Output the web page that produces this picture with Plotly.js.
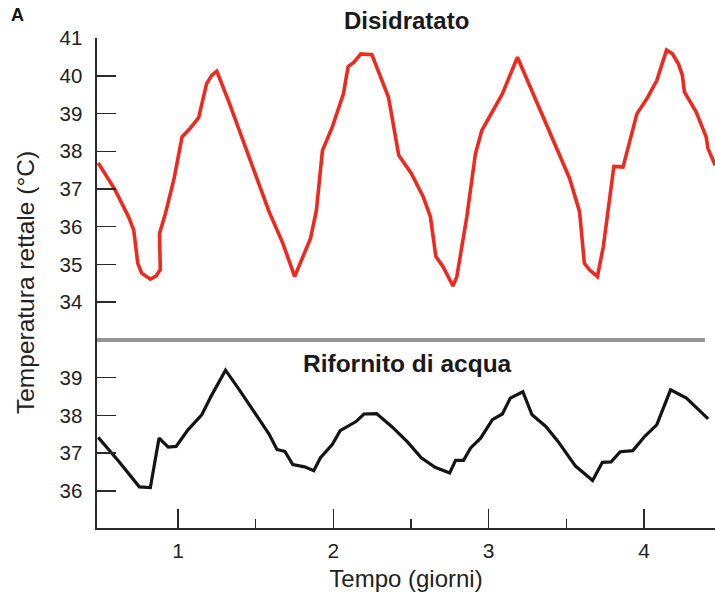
<!DOCTYPE html>
<html>
<head>
<meta charset="utf-8">
<script src="https://cdn.plot.ly/plotly-3.0.1.min.js"></script>
<style>html,body{margin:0;padding:0;background:#fff;}#chart{width:715px;height:599px;}</style>
</head>
<body>
<div id="chart"></div>
<script>
// Time in days
const daysDehydrated = [0.486,0.593,0.682,0.715,0.741,0.766,0.822,0.860,0.886,0.881,
  0.919,0.975,1.026,1.077,1.133,1.184,1.217,1.250,1.331,1.395,
  1.484,1.586,1.675,1.751,1.853,1.891,1.930,1.993,2.065,2.095,
  2.133,2.177,2.248,2.299,2.355,2.421,2.502,2.579,2.625,2.660,
  2.706,2.770,2.795,2.859,2.915,2.956,3.012,3.088,3.185,3.267,
  3.369,3.458,3.521,3.585,3.616,3.649,3.700,3.738,3.806,3.865,
  3.954,4.018,4.082,4.145,4.183,4.222,4.247,4.260,4.336,4.400,
  4.412,4.458];
const tempDehydrated = [37.69,36.99,36.26,35.91,35.03,34.77,34.61,34.70,34.87,35.82,
  36.35,37.28,38.38,38.60,38.89,39.79,40.01,40.12,39.27,38.55,
  37.50,36.40,35.56,34.68,35.69,36.44,38.02,38.64,39.52,40.24,
  40.36,40.58,40.56,40.05,39.43,37.89,37.41,36.79,36.26,35.21,
  34.94,34.43,34.68,36.26,37.94,38.55,38.95,39.52,40.49,39.70,
  38.77,37.89,37.28,36.40,35.03,34.86,34.68,35.47,37.60,37.58,
  38.99,39.39,39.87,40.68,40.58,40.31,40.01,39.57,39.04,38.38,
  38.07,37.63];
const daysWatered = [0.486,0.618,0.751,0.822,0.848,0.878,0.937,0.988,1.064,1.153,
  1.217,1.306,1.395,1.484,1.586,1.637,1.688,1.739,1.815,1.874,
  1.917,1.993,2.044,2.146,2.197,2.278,2.375,2.477,2.566,2.655,
  2.749,2.787,2.838,2.884,2.948,3.024,3.088,3.139,3.220,3.279,
  3.368,3.445,3.559,3.669,3.732,3.788,3.847,3.928,4.005,4.082,
  4.171,4.273,4.413];
const tempWatered = [37.42,36.79,36.11,36.09,36.70,37.40,37.16,37.18,37.62,38.02,
  38.54,39.20,38.68,38.15,37.51,37.10,37.05,36.70,36.64,36.54,
  36.88,37.23,37.60,37.84,38.04,38.05,37.71,37.30,36.88,36.63,
  36.48,36.81,36.81,37.14,37.40,37.89,38.04,38.46,38.63,38.02,
  37.71,37.32,36.66,36.28,36.76,36.77,37.04,37.07,37.45,37.75,
  38.68,38.46,37.91];
const xTicks = [1,2,3,4];
const xTickText = ["1","2","3","4"];
const xMinorTicks = [1.5,2.5,3.5];
const yTicksTop = [34,35,36,37,38,39,40,41];
const yTicksBottom = [36,37,38,39];

const FONT = '"Liberation Sans", Arial, Helvetica, sans-serif';
const AX = '#2a2a2a';

const traces = [
  {x: daysDehydrated, y: tempDehydrated, xaxis:'x', yaxis:'y', mode:'lines',
   line:{color:'#f0281e', width:3.6}, hoverinfo:'skip'},
  {x: daysWatered, y: tempWatered, xaxis:'x', yaxis:'y2', mode:'lines',
   line:{color:'#141414', width:3.2}, hoverinfo:'skip'}
];

const layout = {
  width:715, height:599,
  margin:{l:97, r:0, t:38, b:71, pad:0},
  paper_bgcolor:'#fff', plot_bgcolor:'#fff',
  showlegend:false,
  font:{family:FONT, color:'#222', size:20},
  xaxis:{
    anchor:'y2', range:[0.4785, 4.457], showgrid:false, zeroline:false,
    showline:true, linecolor:AX, linewidth:1.6,
    tickmode:'array', tickvals:xTicks, ticktext:xTickText,
    ticks:'inside', ticklen:19, tickwidth:1.5, tickcolor:AX,
    ticklabelstandoff:3,
    tickfont:{family:FONT, size:21, color:'#222'},
    minor:{tickmode:'array', tickvals:xMinorTicks, ticks:'inside', ticklen:9, tickwidth:1.5, tickcolor:AX, showgrid:false},
    title:{text:'Tempo (giorni)', font:{family:FONT, size:24, color:'#222'}, standoff:9}
  },
  yaxis:{
    domain:[0.3837, 1], range:[33, 41], anchor:'x',
    showgrid:false, zeroline:false, showline:true, linecolor:AX, linewidth:1.6,
    tickmode:'array', tickvals:yTicksTop,
    ticks:'inside', ticklen:19, tickwidth:1.5, tickcolor:AX,
    ticklabelstandoff:9,
    tickfont:{family:FONT, size:20.5, color:'#222'}
  },
  yaxis2:{
    domain:[0, 0.3837], range:[35.02, 40], anchor:'x',
    showgrid:false, zeroline:false, showline:true, linecolor:AX, linewidth:1.6,
    tickmode:'array', tickvals:yTicksBottom,
    ticks:'inside', ticklen:19, tickwidth:1.5, tickcolor:AX,
    ticklabelstandoff:9,
    tickfont:{family:FONT, size:20.5, color:'#222'}
  },
  shapes:[
    {type:'line', xref:'paper', yref:'paper', x0:0, x1:0.9838, y0:0.3837, y1:0.3837,
     line:{color:'#959595', width:4}}
  ],
  annotations:[
    {text:'Temperatura rettale (°C)', xref:'paper', yref:'paper', x:-0.1165, y:0.5,
     xanchor:'center', yanchor:'middle', textangle:-90, showarrow:false,
     font:{family:FONT, size:24.5, color:'#222'}},
    {text:'<b>A</b>', xref:'paper', yref:'paper', x:-0.129, y:1.047,
     xanchor:'center', yanchor:'middle', showarrow:false,
     font:{family:FONT, size:18, color:'#111'}},
    {text:'<b>Disidratato</b>', xref:'paper', yref:'paper', x:0.5016, y:1.0367,
     xanchor:'center', yanchor:'middle', showarrow:false,
     font:{family:FONT, size:24, color:'#1a1a1a'}},
    {text:'<b>Rifornito di acqua</b>', xref:'paper', yref:'paper', x:0.5024, y:0.3347,
     xanchor:'center', yanchor:'middle', showarrow:false,
     font:{family:FONT, size:24.5, color:'#1a1a1a'}}
  ]
};

Plotly.newPlot('chart', traces, layout, {displayModeBar:false, staticPlot:true});
</script>
</body>
</html>
